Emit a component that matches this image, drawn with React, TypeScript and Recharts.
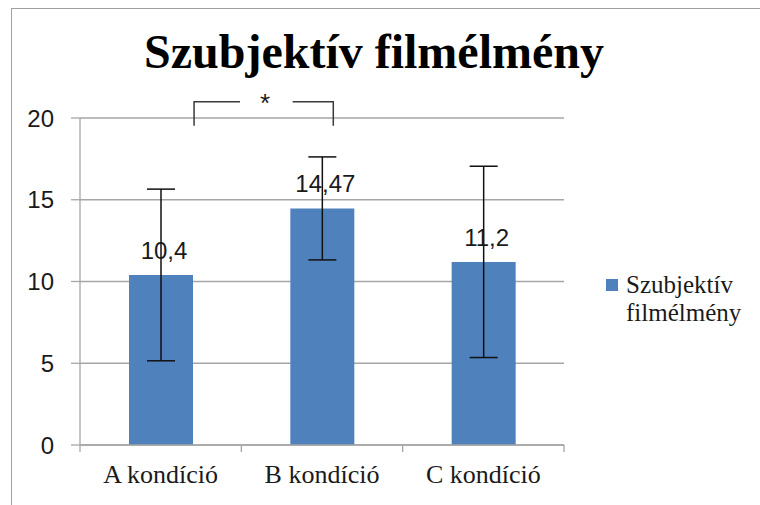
import React from 'react';
import {
  BarChart,
  Bar,
  XAxis,
  YAxis,
  CartesianGrid,
  ErrorBar,
  LabelList,
  Legend,
  ReferenceLine,
} from 'recharts';

// ---- data ----
const categories = ['A kondíció', 'B kondíció', 'C kondíció'];
const means = [10.4, 14.47, 11.2];
const errors = [5.25, 3.15, 5.85];
const yTicks = [0, 5, 10, 15, 20];
const seriesName = 'Szubjektív filmélmény';
const chartTitle = 'Szubjektív filmélmény';
const significanceMark = '*';
const comparedPair = ['A kondíció', 'B kondíció'];

const data = categories.map((name, i) => ({ name, value: means[i], err: errors[i] }));

// ---- significance bracket placement ----
// x: fractions of the spacing between the two compared category centres
// y: value-axis units
const BR_LEFT = 0.207;
const BR_GAP_L = 0.492;
const BR_GAP_R = 0.818;
const BR_RIGHT = 1.07;
const BR_STAR = 0.647;
const BR_TOP = 21.0;
const BR_BOTTOM = 19.53;

const GRID = '#a6a6a6';
const BAR = '#4f81bd';
const BRACKET = '#3a3a3a';
const X_TICK_SIZE = 8;
const X_TICK_MARGIN = 12;
const BOUNDARY_TICK = 7;

const fmt = (v: number) => String(v).replace('.', ',');

const DataLabel = (props: any) => {
  const { x, y, width, value } = props;
  return (
    <text
      x={Number(x) + Number(width) / 2 + 3}
      y={Number(y) - 16}
      textAnchor="middle"
      fontFamily='"Liberation Sans", Arial, sans-serif'
      fontSize={24}
      fill="#1a1a1a"
    >
      {fmt(Number(value))}
    </text>
  );
};

const CategoryTick = (props: any) => {
  const { x, y, payload, index, visibleTicksCount, width } = props;
  const count = Number(visibleTicksCount) || categories.length;
  const half = Number(width) / count / 2;
  const axisY = Number(y) - X_TICK_SIZE - X_TICK_MARGIN;
  const lines: number[] = [Number(x) - half];
  if (index === count - 1) lines.push(Number(x) + half);
  return (
    <g>
      {Number.isFinite(half) &&
        lines.map((lx, i) => (
          <line
            key={i}
            x1={lx}
            x2={lx}
            y1={axisY}
            y2={axisY + BOUNDARY_TICK}
            stroke={GRID}
            strokeWidth={1.3}
          />
        ))}
      <text
        x={x}
        y={y}
        dy="0.71em"
        textAnchor="middle"
        fontFamily='"Liberation Serif", "Times New Roman", serif'
        fontSize={26}
        fill="#1a1a1a"
      >
        {payload.value}
      </text>
    </g>
  );
};

const BracketShape = (props: any) => {
  const { x1, y1, x2, y2 } = props;
  const d = Number(x2) - Number(x1);
  const xl = Number(x1) + BR_LEFT * d;
  const xg1 = Number(x1) + BR_GAP_L * d;
  const xg2 = Number(x1) + BR_GAP_R * d;
  const xr = Number(x1) + BR_RIGHT * d;
  const xs = Number(x1) + BR_STAR * d;
  const yb = Number(y1);
  const yt = Number(y2);
  return (
    <g>
      <path
        d={`M${xl},${yb}L${xl},${yt}L${xg1},${yt}M${xg2},${yt}L${xr},${yt}L${xr},${yb}`}
        fill="none"
        stroke={BRACKET}
        strokeWidth={1.5}
      />
      <text
        x={xs}
        y={yt + 10.5}
        textAnchor="middle"
        fontFamily='"Liberation Sans", Arial, sans-serif'
        fontSize={26}
        fill="#1a1a1a"
      >
        {significanceMark}
      </text>
    </g>
  );
};

const LegendContent = () => (
  <div
    style={{
      position: 'relative',
      fontFamily: '"Liberation Serif", "Times New Roman", serif',
      fontSize: 25,
      lineHeight: '28.4px',
      color: '#1a1a1a',
    }}
  >
    <div
      style={{
        position: 'absolute',
        left: 0,
        top: 7.5,
        width: 12,
        height: 12,
        background: BAR,
      }}
    />
    <div style={{ marginLeft: 20, width: 125 }}>{seriesName}</div>
  </div>
);

export default function App() {
  return (
    <div
      style={{
        position: 'absolute',
        left: 0,
        top: 0,
        width: 760,
        height: 505,
        overflow: 'hidden',
        background: '#fff',
      }}
    >
      <div
        style={{
          position: 'absolute',
          left: 11,
          top: 8,
          width: 900,
          height: 700,
          borderLeft: '1.5px solid #a0a0a0',
          borderTop: '1.5px solid #a0a0a0',
        }}
      />
      <div
        style={{
          position: 'absolute',
          left: 0,
          top: 28,
          width: 748,
          textAlign: 'center',
          fontFamily: '"Liberation Serif", "Times New Roman", serif',
          fontWeight: 'bold',
          fontSize: 48,
          lineHeight: 1,
          color: '#000',
        }}
      >
        {chartTitle}
      </div>
      <div style={{ position: 'absolute', left: 0, top: 0 }}>
        <BarChart
          width={760}
          height={505}
          data={data}
          margin={{ top: 118, right: 196, bottom: 0, left: 0 }}
        >
          <CartesianGrid vertical={false} stroke={GRID} strokeWidth={1.3} />
          <XAxis
            dataKey="name"
            height={60}
            tickLine={false}
            axisLine={{ stroke: GRID, strokeWidth: 1.3 }}
            tickSize={X_TICK_SIZE}
            tickMargin={X_TICK_MARGIN}
            interval={0}
            tick={CategoryTick}
          />
          <YAxis
            domain={[0, 20]}
            ticks={yTicks}
            interval={0}
            width={80}
            tickSize={9}
            tickMargin={17}
            axisLine={{ stroke: GRID, strokeWidth: 1.3 }}
            tickLine={{ stroke: GRID, strokeWidth: 1.3 }}
            tick={{
              fontFamily: '"Liberation Sans", Arial, sans-serif',
              fontSize: 24,
              fill: '#1a1a1a',
            }}
          />
          <Legend
            layout="horizontal"
            verticalAlign="middle"
            align="right"
            content={LegendContent}
            wrapperStyle={{ left: 606, top: 271, width: 0, height: 0, overflow: 'visible' }}
          />
          <Bar dataKey="value" name={seriesName} fill={BAR} barSize={64} isAnimationActive={false}>
            <ErrorBar dataKey="err" direction="y" width={14} stroke="#111" strokeWidth={1.5} />
            <LabelList dataKey="value" content={DataLabel} />
          </Bar>
          <ReferenceLine
            ifOverflow="visible"
            stroke={BRACKET}
            segment={[
              { x: comparedPair[0], y: BR_BOTTOM },
              { x: comparedPair[1], y: BR_TOP },
            ]}
            shape={BracketShape}
          />
        </BarChart>
      </div>
    </div>
  );
}
